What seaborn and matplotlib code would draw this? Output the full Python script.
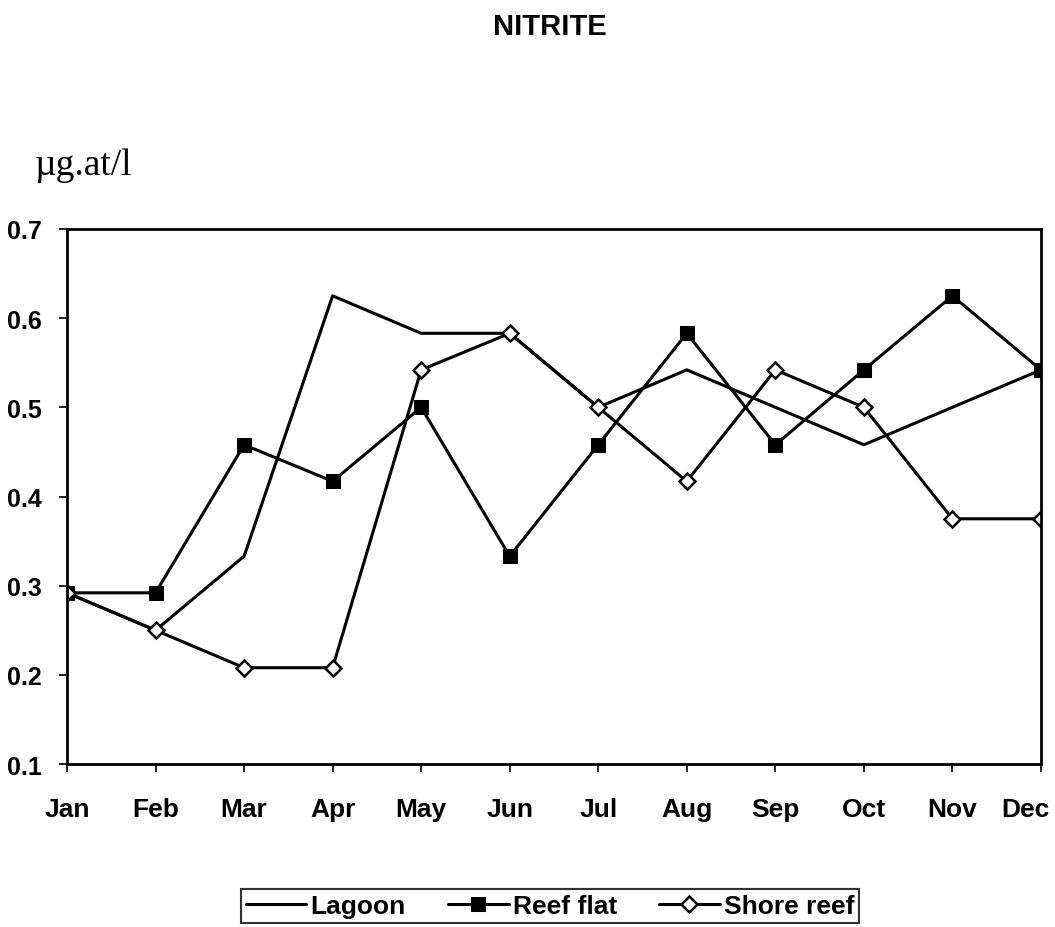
import pandas as pd
import seaborn as sns
import matplotlib.pyplot as plt
import matplotlib.transforms as mtransforms

# Données (µg.at/l)
months = ['Jan', 'Feb', 'Mar', 'Apr', 'May', 'Jun',
          'Jul', 'Aug', 'Sep', 'Oct', 'Nov', 'Dec']
lagoon = [0.292, 0.25, 0.333, 0.625, 0.583, 0.583,
          0.5, 0.542, 0.5, 0.458, 0.5, 0.542]
reef_flat = [0.292, 0.292, 0.458, 0.417, 0.5, 0.333,
             0.458, 0.583, 0.458, 0.542, 0.625, 0.542]
shore_reef = [0.292, 0.25, 0.208, 0.208, 0.542, 0.583,
              0.5, 0.417, 0.542, 0.5, 0.375, 0.375]
y_ticks = [0.1, 0.2, 0.3, 0.4, 0.5, 0.6, 0.7]

df = pd.DataFrame({'month': range(len(months)),
                   'Lagoon': lagoon,
                   'Reef flat': reef_flat,
                   'Shore reef': shore_reef})
df_long = df.melt(id_vars='month', var_name='site', value_name='value')

sns.set_style("white")
plt.rcParams['font.family'] = ['Liberation Sans', 'DejaVu Sans']
plt.rcParams['text.color'] = 'black'
plt.rcParams['xtick.color'] = 'black'
plt.rcParams['ytick.color'] = 'black'

fig = plt.figure(figsize=(10.55, 9.28), dpi=100)
ax = fig.add_axes([0.0635, 0.1756, 0.9232, 0.5766])

styles = {
    'Lagoon': dict(marker=None),
    'Reef flat': dict(marker='s', markersize=10, markerfacecolor='black',
                      markeredgecolor='black'),
    'Shore reef': dict(marker='D', markersize=8, markerfacecolor='white',
                       markeredgecolor='black', markeredgewidth=1.8),
}
for site, kw in styles.items():
    sns.lineplot(data=df_long[df_long['site'] == site], x='month', y='value',
                 color='black', linewidth=2.2, label=site, ax=ax, **kw)

ax.set_xlim(0, 11)
ax.set_ylim(0.1, 0.7)
ax.set_xticks(range(len(months)))
ax.set_xticklabels(months)
ax.set_yticks(y_ticks)
ax.set_yticklabels([f"{v:.1f}" for v in y_ticks])
ax.set_xlabel("")
ax.set_ylabel("")

for s in ax.spines.values():
    s.set_visible(True)
    s.set_color('black')
    s.set_linewidth(2.0)

ax.tick_params(axis='x', direction='out', length=6, width=1.2, pad=18,
               labelsize=19, bottom=True, colors='black')
ax.tick_params(axis='y', direction='out', length=6, width=1.2, pad=12,
               labelsize=18, left=True, colors='black')
for lab in ax.get_xticklabels() + ax.get_yticklabels():
    lab.set_fontweight('bold')

# le dernier mois est décalé vers la gauche comme dans l'original
last = ax.get_xticklabels()[-1]
last.set_transform(last.get_transform() +
                   mtransforms.ScaledTranslation(-16 / 100, 0, fig.dpi_scale_trans))

# Titre et unité
fig.text(550 / 1055, 1 - 27 / 928, "NITRITE", ha='center', va='center',
         fontsize=21, fontweight='bold')
fig.text(35 / 1055, 1 - 166 / 928, "µg.at/l", ha='left', va='center',
         fontsize=27, family=['Liberation Serif', 'DejaVu Serif'])

# Légende
leg = ax.legend(loc='center', bbox_to_anchor=(550 / 1055, 1 - 907 / 928),
                bbox_transform=fig.transFigure, ncol=3, frameon=True,
                fancybox=False, edgecolor='black', handlelength=2.3,
                handletextpad=0.15, columnspacing=1.6, borderpad=0.2,
                borderaxespad=0, prop={'size': 19, 'weight': 'bold'})
leg.get_frame().set_linewidth(1.5)

fig.savefig("out.png", dpi=100)
